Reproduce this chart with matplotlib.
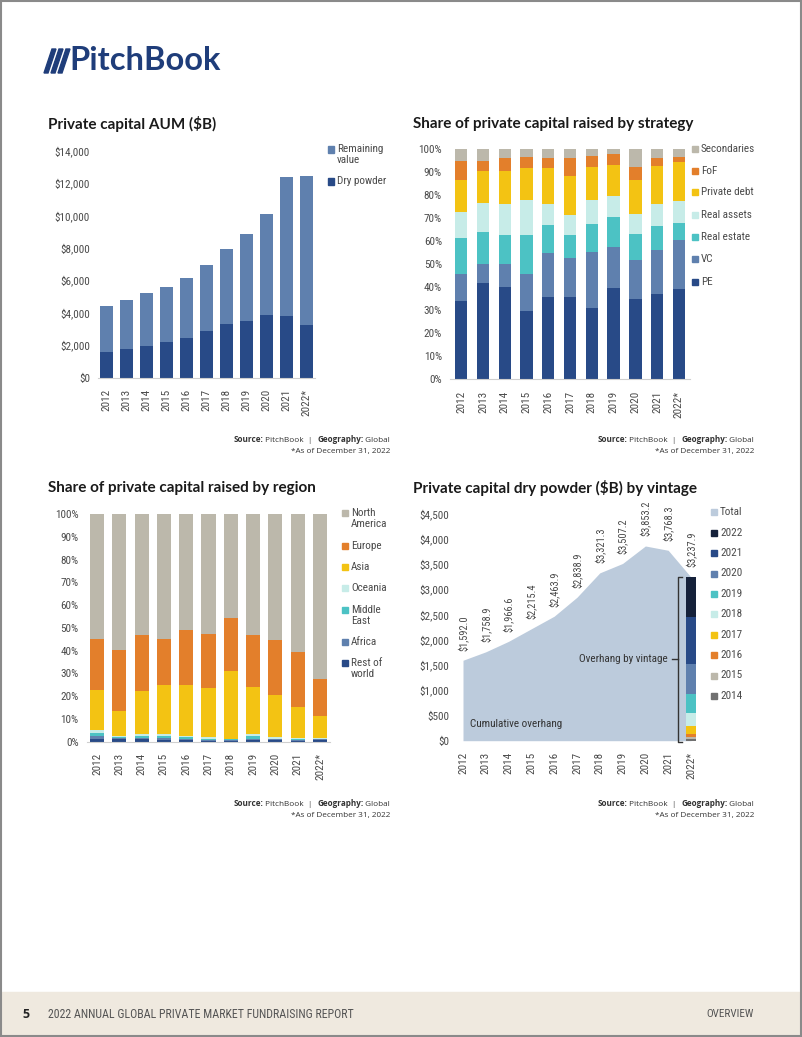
import matplotlib
matplotlib.use('Agg')
import matplotlib.pyplot as plt
from matplotlib.patches import Rectangle, Polygon
from matplotlib import font_manager
import numpy as np

W, H = 802, 1037

years = ['2012', '2013', '2014', '2015', '2016', '2017', '2018', '2019', '2020', '2021', '2022*']

# AUM ($B)
dry_powder = [1592.0, 1758.9, 1966.6, 2215.4, 2463.9, 2838.9, 3321.3, 3507.2, 3853.2, 3768.3, 3237.9]
remaining_value = [2838, 3041, 3223, 3365, 3696, 4081, 4589, 5333, 6257, 8572, 9182]

# share by strategy (%)
pe = [34.2, 41.7, 40.1, 29.9, 35.8, 35.8, 31.0, 39.7, 34.8, 37.0, 39.1]
vc = [11.5, 8.4, 10.0, 15.8, 19.3, 17.0, 24.4, 18.0, 16.9, 19.1, 21.3]
real_estate = [15.9, 14.1, 12.5, 16.9, 11.9, 9.8, 12.1, 12.7, 11.5, 10.4, 7.7]
real_assets = [11.0, 12.6, 13.8, 15.4, 9.4, 8.8, 10.5, 9.3, 8.7, 9.9, 9.4]
private_debt = [14.1, 13.9, 14.3, 13.7, 15.3, 17.2, 14.3, 13.6, 14.9, 16.5, 17.0]
fof = [8.2, 4.2, 5.4, 4.8, 4.4, 7.5, 4.8, 4.5, 5.7, 3.2, 2.2]
secondaries = [5.1, 5.1, 3.9, 3.5, 3.9, 3.9, 2.9, 2.2, 7.5, 3.9, 3.3]

# share by region (%)
rest_of_world = [1.2, 1.0, 1.0, 0.9, 0.6, 0.5, 0.4, 0.8, 0.6, 0.5, 0.6]
africa = [1.2, 0.8, 0.8, 0.6, 0.5, 0.4, 0.3, 0.6, 0.4, 0.3, 0.4]
middle_east = [1.4, 0.3, 0.6, 0.8, 0.8, 0.5, 0.3, 1.0, 0.4, 0.4, 0.3]
oceania = [1.4, 0.4, 1.0, 1.1, 0.7, 0.7, 0.4, 1.0, 0.7, 0.5, 0.4]
asia = [17.5, 11.1, 18.9, 21.6, 22.4, 21.5, 29.5, 20.6, 18.4, 13.7, 9.7]
europe = [22.4, 26.5, 24.6, 20.1, 24.0, 23.8, 23.4, 22.9, 24.2, 24.1, 16.1]
north_america = [54.9, 59.9, 53.1, 54.9, 51.0, 52.6, 45.7, 53.1, 55.3, 60.5, 72.5]

# 2022 dry powder by vintage ($B)
vintages = ['2014', '2015', '2016', '2017', '2018', '2019', '2020', '2021', '2022']
vintage_values = [26, 40, 73, 158, 251, 376, 594, 923, 797]

NAVY = '#284a87'
STEEL = '#5f80ae'
TEAL = '#4cc2c4'
MINT = '#c7ece8'
YELLOW = '#f3c313'
ORANGE = '#e37f2b'
STONE = '#bcb8ab'
INK = '#15213a'
GRAY = '#707070'
AREA = '#bccbdc'
TXT = '#4a4a4a'

installed = {f.name for f in font_manager.fontManager.ttflist}


def pick(*names):
    for n in names:
        if n in installed:
            return n
    return 'DejaVu Sans'


NARROW = pick('Liberation Sans Narrow', 'Roboto Condensed', 'Open Sans Condensed', 'Open Sans')
HEAD = pick('Lato', 'Open Sans')
plt.rcParams['font.family'] = NARROW

fig = plt.figure(figsize=(W / 100, H / 100), dpi=100)


def px_axes(l, t, r, b):
    return fig.add_axes([l / W, 1 - b / H, (r - l) / W, (b - t) / H])


def style(ax):
    for s in ['top', 'right', 'left']:
        ax.spines[s].set_visible(False)
    ax.spines['bottom'].set_color('#cfcfcf')
    ax.spines['bottom'].set_linewidth(0.8)
    ax.tick_params(length=0, labelsize=8, colors=TXT)
    ax.tick_params(axis='y', pad=6)
    ax.tick_params(axis='x', pad=8)
    ax.set_xticks(range(len(years)))
    ax.set_xticklabels(years, rotation=90)


def ftext(x, y, s, **kw):
    return fig.text(x / W, 1 - y / H, s, **kw)


def legend_item(x, y, color, lines, size=6):
    fig.patches.append(Rectangle((x / W, 1 - (y + size / 2) / H), size / W, size / H,
                                 transform=fig.transFigure, color=color))
    for k, line in enumerate(lines.split('\n')):
        ftext(x + size + 3, y + k * 10.7, line, fontsize=8, color=TXT, va='center')


def title(x, y, s):
    ftext(x, y, s, fontsize=11, fontweight='bold', family=HEAD, color='#1a1a1a', va='center')


renderer = fig.canvas.get_renderer()


def source(x_right, y):
    parts = [('Source:', 'bold'), (' PitchBook  |  ', 'normal'), ('Geography:', 'bold'), (' Global', 'normal')]
    objs = []
    for s, w in parts:
        t = ftext(0, y, s, fontsize=5.9, fontweight=w, family='Open Sans', color='#333333', va='center')
        objs.append(t)
    widths = [t.get_window_extent(renderer).width for t in objs]
    x = x_right - sum(widths)
    for t, wd in zip(objs, widths):
        t.set_x(x / W)
        x += wd
    ftext(x_right, y + 12, '*As of December 31, 2022', fontsize=5.9, family='Open Sans',
          color='#333333', va='center', ha='right')


x = np.arange(len(years))

# page background pieces
fig.patches.append(Rectangle((0, 0), 1, 45 / H, transform=fig.transFigure, color='#efe9df', zorder=0))
fig.patches.append(Rectangle((0.001, 0.001), 0.998, 0.998, transform=fig.transFigure, fill=False,
                             edgecolor='#8a8a8a', linewidth=1.5, zorder=5))

# logo
for dx in [0, 7, 14]:
    fig.patches.append(Polygon([((44 + dx) / W, 1 - 73 / H), ((52 + dx) / W, 1 - 49 / H),
                                ((56 + dx) / W, 1 - 49 / H), ((48 + dx) / W, 1 - 73 / H)],
                               closed=True, transform=fig.transFigure, color='#1f3d7a'))
ftext(69, 61, 'PitchBook', fontsize=23.5, fontweight='bold', family=HEAD, color='#1f3d7a', va='center')

# ---- Private capital AUM
ax1 = px_axes(98.3, 150.5, 314.7, 377.5)
w1 = 0.63
ax1.bar(x, dry_powder, w1, color=NAVY)
ax1.bar(x, remaining_value, w1, bottom=dry_powder, color=STEEL)
ax1.set_ylim(0, 14000)
ax1.set_xlim(-0.4, 10.4)
ax1.set_yticks(range(0, 14001, 2000))
ax1.set_yticklabels(['${:,}'.format(v) for v in range(0, 14001, 2000)])
style(ax1)
title(48, 124, 'Private capital AUM ($B)')
legend_item(328, 149.5, STEEL, 'Remaining\nvalue')
legend_item(328, 181.5, NAVY, 'Dry powder')
source(390, 440)

# ---- Share by strategy
ax2 = px_axes(450.3, 149.3, 689.8, 379.3)
w2 = 0.57
bottom = np.zeros(len(years))
strat = [(pe, NAVY, 'PE'), (vc, STEEL, 'VC'), (real_estate, TEAL, 'Real estate'),
         (real_assets, MINT, 'Real assets'), (private_debt, YELLOW, 'Private debt'),
         (fof, ORANGE, 'FoF'), (secondaries, STONE, 'Secondaries')]
for vals, c, lab in strat:
    ax2.bar(x, vals, w2, bottom=bottom, color=c)
    bottom += np.array(vals)
ax2.set_ylim(0, 100)
ax2.set_xlim(-0.5, 10.5)
ax2.set_yticks(range(0, 101, 10))
ax2.set_yticklabels(['{}%'.format(v) for v in range(0, 101, 10)])
style(ax2)
title(413, 124, 'Share of private capital raised by strategy')
for (vals, c, lab), yy in zip(strat[::-1], [148.7, 170.7, 191.7, 214.7, 237, 259.3, 281.7]):
    legend_item(692, yy, c, lab)
source(754, 440)

# ---- Share by region
ax3 = px_axes(87, 514, 330, 741.7)
w3 = 0.63
bottom = np.zeros(len(years))
regions = [(rest_of_world, NAVY, 'Rest of\nworld'), (africa, STEEL, 'Africa'),
           (middle_east, TEAL, 'Middle\nEast'), (oceania, MINT, 'Oceania'),
           (asia, YELLOW, 'Asia'), (europe, ORANGE, 'Europe'), (north_america, STONE, 'North\nAmerica')]
for vals, c, lab in regions:
    ax3.bar(x, vals, w3, bottom=bottom, color=c)
    bottom += np.array(vals)
ax3.set_ylim(0, 100)
ax3.set_xlim(-0.45, 10.45)
ax3.set_yticks(range(0, 101, 10))
ax3.set_yticklabels(['{}%'.format(v) for v in range(0, 101, 10)])
style(ax3)
title(48, 488, 'Share of private capital raised by region')
for (vals, c, lab), yy in zip(regions[::-1], [513.3, 545.7, 567, 588.3, 610, 642, 663.3]):
    legend_item(342, yy, c, lab)
source(390, 804)

# ---- Dry powder by vintage
ax4 = px_axes(457.3, 513.3, 697.8, 740.7)
ax4.fill_between(x, dry_powder, color=AREA, linewidth=0)
for xi, v in zip(x, dry_powder):
    ax4.text(xi, v + 190, '${:,.1f}'.format(v), rotation=90, ha='center', va='bottom',
             fontsize=7.5, color=TXT)
vint_colors = [GRAY, STONE, ORANGE, YELLOW, MINT, TEAL, STEEL, NAVY, INK]
b = 0
for v, c in zip(vintage_values, vint_colors):
    ax4.bar(10, v, 0.44, bottom=b, color=c)
    b += v
total_v = sum(vintage_values)
ax4.plot([9.59, 9.417, 9.417, 9.59], [total_v, total_v, -20, -20], color='#333333', lw=1, clip_on=False)
ax4.plot([9.17, 9.417], [total_v / 2, total_v / 2], color='#333333', lw=1)
ax4.text(9.0, total_v / 2, 'Overhang by vintage', ha='right', va='center', fontsize=8, color='#333333')
ax4.text(0.31, 337, 'Cumulative overhang', ha='left', va='center', fontsize=8, color='#333333')
ax4.set_ylim(0, 4500)
ax4.set_xlim(-0.25, 10.3)
ax4.set_yticks(range(0, 4501, 500))
ax4.set_yticklabels(['${:,}'.format(v) for v in range(0, 4501, 500)])
style(ax4)
ax4.spines['bottom'].set_visible(False)
title(413, 488, 'Private capital dry powder ($B) by vintage')
leg = [('Total', AREA)] + list(zip(vintages[::-1], vint_colors[::-1]))
for k, (lab, c) in enumerate(leg):
    legend_item(711, 512.3 + 20.4 * k, c, lab)
source(754, 804)

# footer
ftext(22, 1014, '5', fontsize=9, fontweight='bold', family='Open Sans', color='#222222', va='center')
ftext(48, 1014, '2022 ANNUAL GLOBAL PRIVATE MARKET FUNDRAISING REPORT', fontsize=8.6, color='#555555', va='center')
ftext(754, 1014, 'OVERVIEW', fontsize=8, color='#555555', va='center', ha='right')

fig.savefig('out.png', dpi=100)
